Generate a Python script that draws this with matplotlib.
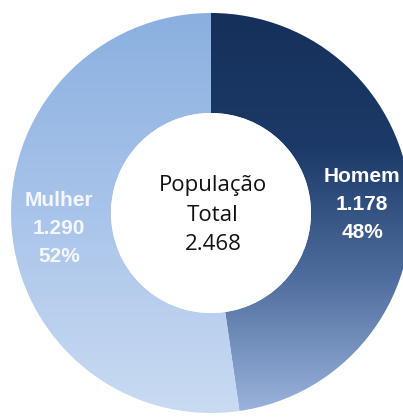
import numpy as np
import matplotlib.pyplot as plt
from matplotlib.patches import Wedge, Circle
from matplotlib.colors import LinearSegmentedColormap

categorias = ['Homem', 'Mulher']
valores = [1178, 1290]
total = sum(valores)

# gradientes verticais (topo -> base)
grad_homem = ['#15305a', '#1c3a68', '#4f6d9e', '#9bb4dc']
grad_mulher = ['#8ab0e0', '#a9c4ea', '#c9dbf2']

def fmt(n):
    return f'{n:,}'.replace(',', '.')

fig = plt.figure(figsize=(4.03, 4.17), dpi=100)
ax = fig.add_axes([0, 0, 1, 1])
cx, cy = 211, 213
ax.set_xlim(-cx, 403 - cx)
ax.set_ylim(-(417 - cy), cy)
ax.set_aspect('equal')
ax.axis('off')

R = 200
largura = 100
gradientes = [grad_homem, grad_mulher]

inicio = 90
for cat, val, cores in zip(categorias, valores, gradientes):
    ang = 360 * val / total
    fim = inicio - ang
    w = Wedge((0, 0), R, fim, inicio, width=largura, facecolor='none', edgecolor='none')
    ax.add_patch(w)
    cmap = LinearSegmentedColormap.from_list(cat, cores)
    grad = np.linspace(0, 1, 256).reshape(-1, 1)
    im = ax.imshow(grad, cmap=cmap, extent=[-R, R, -R, R], origin='upper',
                   aspect='auto', interpolation='bilinear')
    im.set_clip_path(w)
    inicio = fim

ax.add_patch(Circle((0, 0), R - largura, facecolor='white', edgecolor='none', zorder=3))

# rótulos
lbl = dict(color='white', fontweight='bold', fontsize=15, ha='center', va='center',
           family=['Liberation Sans', 'DejaVu Sans'], zorder=4, linespacing=1.6)
ax.text(362 - cx, cy - 204, f'Homem\n{fmt(valores[0])}\n{round(100*valores[0]/total)}%', **lbl)
ax.text(59 - cx, cy - 228, f'Mulher\n{fmt(valores[1])}\n{round(100*valores[1]/total)}%',
        **{**lbl, 'color': '#f4f7fc'})

ax.text(213 - cx, cy - 215, f'População\nTotal\n{fmt(total)}', color='#111111',
        fontsize=16, ha='center', va='center', family=['Open Sans', 'DejaVu Sans'],
        zorder=4, linespacing=1.55)

fig.savefig('out.png', dpi=100)
